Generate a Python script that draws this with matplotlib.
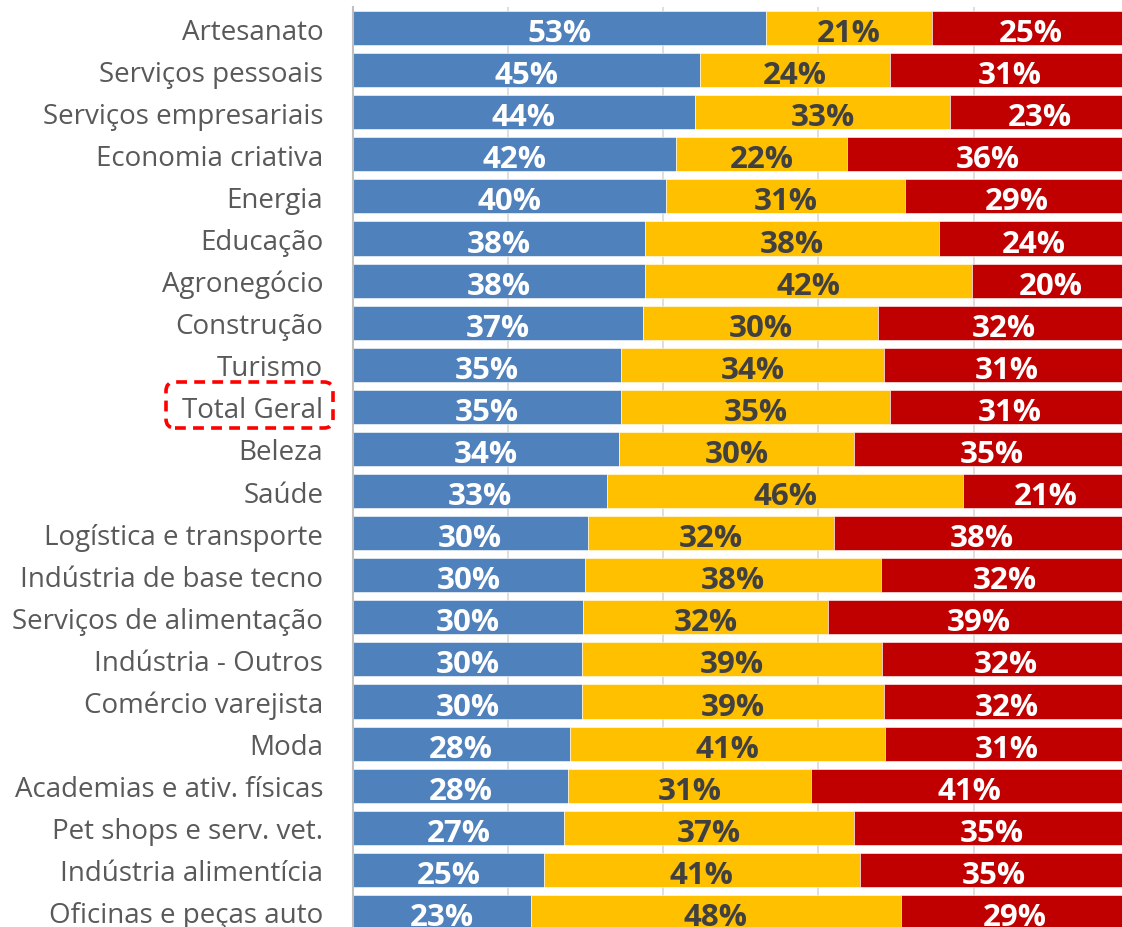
import matplotlib
matplotlib.use("Agg")
import matplotlib.pyplot as plt
import matplotlib.transforms as mtransforms
from matplotlib.patches import FancyBboxPatch
import numpy as np

categories = [
    "Artesanato", "Serviços pessoais", "Serviços empresariais", "Economia criativa",
    "Energia", "Educação", "Agronegócio", "Construção", "Turismo", "Total Geral",
    "Beleza", "Saúde", "Logística e transporte", "Indústria de base tecno",
    "Serviços de alimentação", "Indústria - Outros", "Comércio varejista", "Moda",
    "Academias e ativ. físicas", "Pet shops e serv. vet.", "Indústria alimentícia",
    "Oficinas e peças auto",
]
blue_vals = [53.2, 44.8, 44.1, 41.6, 40.4, 37.7, 37.7, 37.4, 34.6, 34.6, 34.3, 32.8,
             30.3, 30.0, 29.7, 29.6, 29.6, 28.0, 27.8, 27.3, 24.7, 23.0]
yellow_vals = [21.4, 24.4, 32.9, 22.1, 30.8, 37.8, 42.1, 30.3, 33.9, 34.6, 30.3, 45.8,
               31.7, 38.0, 31.6, 38.6, 38.8, 40.6, 31.2, 37.3, 40.6, 47.6]
red_vals = [25.4, 30.8, 23.0, 36.3, 28.8, 24.5, 20.2, 32.3, 31.4, 30.8, 35.4, 21.4,
            38.0, 32.0, 38.7, 31.8, 31.6, 31.4, 41.0, 35.4, 34.7, 29.4]

BLUE = "#4F81BD"
YELLOW = "#FFC000"
RED = "#C00000"

plt.rcParams['font.family'] = ['Open Sans', 'DejaVu Sans']

W, H = 1122, 928
fig = plt.figure(figsize=(W / 100, H / 100), dpi=100)
x0, x1 = 352.5, 1129.0
ytop, ybot = 8.0, 934.0
ax = fig.add_axes([x0 / W, 1 - ybot / H, (x1 - x0) / W, (ybot - ytop) / H])

n = len(categories)
y = np.arange(n)
bh = 0.81
b = np.array(blue_vals)
yv = np.array(yellow_vals)
r = np.array(red_vals)

ax.barh(y, b, height=bh, color=BLUE, edgecolor="white", linewidth=0.4, zorder=2)
ax.barh(y, yv, left=b, height=bh, color=YELLOW, edgecolor="white", linewidth=0.4, zorder=2)
ax.barh(y, r, left=b + yv, height=bh, color=RED, edgecolor="white", linewidth=0.4, zorder=2)

fs_val = 22.5
dy = 0.12
for i in range(n):
    ax.text(b[i] / 2, y[i] + dy, f"{b[i]:.0f}%", ha="center", va="center",
            color="white", fontsize=fs_val, fontweight="bold", zorder=3)
    ax.text(b[i] + yv[i] / 2, y[i] + dy, f"{yv[i]:.0f}%", ha="center", va="center",
            color="#404040", fontsize=fs_val, fontweight="bold", zorder=3)
    ax.text(b[i] + yv[i] + r[i] / 2, y[i] + dy, f"{r[i]:.0f}%", ha="center", va="center",
            color="white", fontsize=fs_val, fontweight="bold", zorder=3)

ax.set_xlim(0, 100)
ax.set_ylim(n - 0.5, -0.5)
ax.set_yticks(y)
ax.set_yticklabels(categories, fontsize=20, color="#595959")
ax.tick_params(axis="y", length=0, pad=21)
ax.tick_params(axis="x", length=0, labelbottom=False)
ax.set_xticks([20, 40, 60, 80])
ax.grid(axis="x", color="#D9D9D9", linewidth=1.2, zorder=0)
ax.set_axisbelow(True)
for s in ["top", "right", "bottom"]:
    ax.spines[s].set_visible(False)
ax.spines["left"].set_color("#BFBFBF")
ax.spines["left"].set_linewidth(1.5)

# dashed highlight box around "Total Geral" (pixel coordinates, origin top-left)
bx0, by0, bx1, by1 = 166, 383, 333, 429
box = FancyBboxPatch((bx0, H - by1), bx1 - bx0, by1 - by0,
                     boxstyle="round,pad=0,rounding_size=9",
                     transform=mtransforms.IdentityTransform(),
                     fill=False, edgecolor="#FF0000", linewidth=2.6,
                     linestyle=(0, (3, 2)))
fig.add_artist(box)

fig.savefig("out.png", dpi=100)
